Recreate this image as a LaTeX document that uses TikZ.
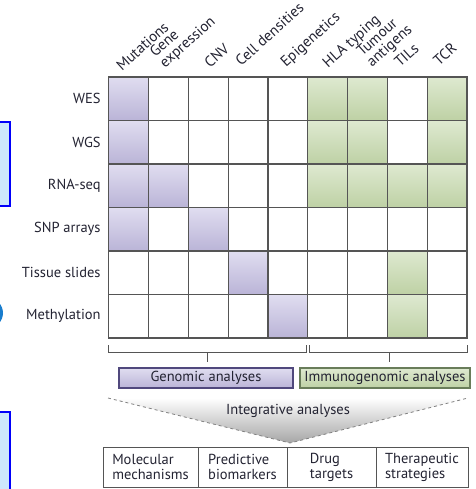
\documentclass[tikz,border=0pt]{standalone}
\usepackage{fontspec}
\setmainfont{PT Sans}
\usetikzlibrary{positioning}
\definecolor{inkgray}{RGB}{35,35,50}
\definecolor{gridgray}{RGB}{85,85,85}
\definecolor{genoL}{RGB}{224,221,240}
\definecolor{genoD}{RGB}{186,180,215}
\definecolor{immL}{RGB}{222,233,208}
\definecolor{immD}{RGB}{190,209,165}
\definecolor{genoEdge}{RGB}{80,72,125}
\definecolor{immEdge}{RGB}{105,125,90}
\definecolor{sideblue}{RGB}{0,0,250}
\definecolor{sidefill}{RGB}{205,232,252}
\definecolor{dotblue}{RGB}{25,125,205}
\tikzset{
  cell/.style={draw=gridgray, line width=1.1pt, minimum width=39.8pt,
    minimum height=43.5pt, inner sep=0pt, outer sep=0pt},
  genomic/.style={top color=genoL, bottom color=genoD},
  immuno/.style={top color=immL, bottom color=immD},
  rowlabel/.style={text=inkgray, font=\fontsize{14.5}{16}\selectfont, inner sep=0pt},
  colhead/.style={text=inkgray, font=\fontsize{15}{14.5}\selectfont, rotate=42,
    anchor=south west, text depth=0pt, align=left, inner sep=0pt},
  bracket/.style={draw=gridgray, line width=0.9pt},
  anabox/.style={line width=1.1pt, minimum height=20pt, inner sep=0pt,
    text=inkgray, font=\fontsize{14.5}{16}\selectfont},
  usebox/.style={draw=gridgray, line width=0.9pt, minimum height=40pt,
    inner sep=0pt, outer sep=0pt, align=left, text=inkgray,
    font=\fontsize{14.5}{15}\selectfont}
}
\begin{document}
\begin{tikzpicture}[x=1pt, y=-1pt]
  \useasboundingbox (0,0) rectangle (475,489);
  \clip (0,0) rectangle (475,489);
  % cut-off pieces of the neighbouring panel
  \draw[sideblue, line width=1.5pt, fill=sidefill] (-10,122) rectangle (10,206);
  \draw[sideblue, line width=1.5pt, fill=sidefill] (-10,412) rectangle (10,500);
  \fill[dotblue] (-12,313) circle (15);
  % grid of platforms and read-outs
  \foreach \r in {1,...,6}
    \foreach \c in {1,...,9}
      \node[cell] (c\r\c) at ({88.9+39.8*\c},{55.25+43.5*\r}) {};
  \foreach \r/\c in {1/1,2/1,3/1,3/2,4/1,4/3,5/4,6/5}
    \node[cell, genomic] at (c\r\c) {};
  \foreach \r/\c in {1/6,1/7,1/9,2/6,2/7,2/9,3/6,3/7,3/8,3/9,5/8,6/8}
    \node[cell, immuno] at (c\r\c) {};
  % row labels
  \foreach \r/\t in {1/WES, 2/WGS, 3/RNA-seq, 4/SNP arrays, 5/Tissue slides, 6/Methylation}
    \node[rowlabel, anchor=east] (lab\r) [left=8pt of c\r1] {\t};
  % column labels
  \foreach \c/\x/\y/\t in {1/122/72/Mutations, 2/165/69/{Gene\\expression}, 3/210/69/CNV,
      4/241/67/Cell densities, 5/286/68/Epigenetics, 6/328/69/HLA typing,
      7/372/68/{Tumour\\antigens}, 8/400/68/TILs, 9/439/67/TCR}
    \node[colhead] (head\c) at (\x,\y) {\t};
  % brackets
  \draw[bracket] (108,345) -- (108,352) -- (306,352) -- (306,345);
  \draw[bracket] (207,352) -- (207,362);
  \draw[bracket] (309,345) -- (309,352) -- (467,352) -- (467,345);
  \draw[bracket] (389,352) -- (389,362);
  \node[anabox, genomic, draw=genoEdge, minimum width=174pt] (geno) at (206,378) {Genomic analyses};
  \node[anabox, immuno, draw=immEdge, minimum width=170pt] (immu) at (385,378) {Immunogenomic analyses};
  % funnel
  \shade[top color=white, bottom color=gray!70] (108,398) -- (290,443) -- (468,398) -- cycle;
  \draw[gray, dashed, line width=0.8pt] (108,398) -- (290,443) -- (468,398);
  \node[rowlabel] (integ) at (288,411) {Integrative analyses};
  % outcomes
  \node[usebox, minimum width=95pt] (mol) at (150.5,467) {Molecular\\mechanisms};
  \node[usebox, minimum width=89pt] (pred) [right=0pt of mol] {Predictive\\biomarkers};
  \node[usebox, minimum width=89pt] (drug) [right=0pt of pred] {Drug\\targets};
  \node[usebox, minimum width=92pt] (ther) [right=0pt of drug] {Therapeutic\\strategies};
\end{tikzpicture}
\end{document}
